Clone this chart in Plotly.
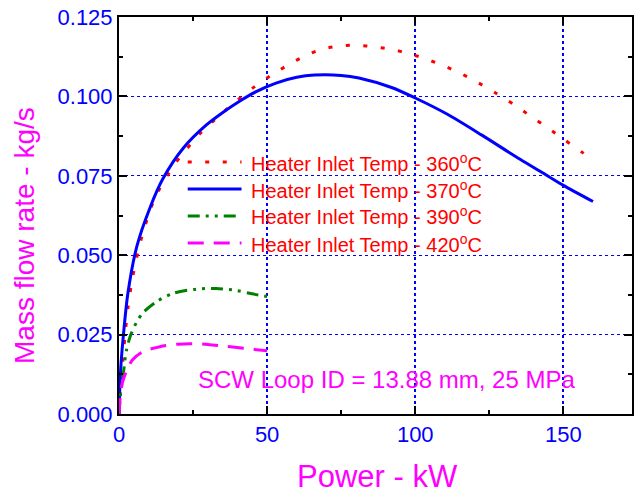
import plotly.graph_objects as go

# ---- data ----
power_360 = [0, 0.9, 2.0, 3.1, 4.5, 6.5, 8.7, 12.1, 18.3, 22.8, 27.8, 33.6, 39.6, 45.7, 51.1, 56.9,
             62.9, 68.7, 74.5, 80.4, 86.2, 92.0, 97.8, 103.8, 109.7, 115.4, 121.4, 127.1, 133.2,
             138.9, 144.7, 150.6, 156.5, 160]
flow_360 = [0, 0.0120, 0.0245, 0.0340, 0.0425, 0.0515, 0.0590, 0.0680, 0.0780, 0.0834, 0.0887,
            0.0937, 0.0985, 0.1030, 0.1065, 0.1098, 0.1128, 0.1149, 0.1159, 0.1161, 0.1156, 0.1148,
            0.1135, 0.1117, 0.1096, 0.1072, 0.1042, 0.1011, 0.0975, 0.0938, 0.0901, 0.0862, 0.0823,
            0.0800]

power_370 = [0, 0.3, 0.7, 1.5, 3, 6, 10.4, 14.9, 21.6, 29.5, 36.2, 40.7, 46.3, 53, 60, 66, 75, 81,
             92, 100, 111, 122.5, 134, 145, 150, 160]
flow_370 = [0, 0.009, 0.016, 0.025, 0.038, 0.0527, 0.0648, 0.0742, 0.0836, 0.0910, 0.0957, 0.0985,
            0.1015, 0.1042, 0.1060, 0.1067, 0.1066, 0.1058, 0.1028, 0.0995, 0.0943, 0.0878, 0.0810,
            0.0748, 0.0720, 0.0669]

power_390 = [0, 0.5, 1.5, 2.5, 4, 6, 8.2, 12.7, 18.3, 26, 32.8, 39.6, 44, 50]
flow_390 = [0, 0.006, 0.013, 0.020, 0.025, 0.029, 0.032, 0.0354, 0.038, 0.0393, 0.0395, 0.0389,
            0.038, 0.037]

power_420 = [0, 0.5, 1.2, 2.5, 4.5, 8, 13.8, 20, 25, 30, 36, 42, 50]
flow_420 = [0, 0.006, 0.010, 0.0135, 0.017, 0.0196, 0.0212, 0.0220, 0.0221, 0.0219, 0.0213,
            0.0207, 0.0199]

x_ticks = [0, 50, 100, 150]
x_minor = [25, 75, 125, 175]
y_ticks = [0, 0.025, 0.05, 0.075, 0.1, 0.125]
y_tick_text = ["0.000", "0.025", "0.050", "0.075", "0.100", "0.125"]
y_minor = [0.0125, 0.0375, 0.0625, 0.0875, 0.1125]

series_labels = ["Heater Inlet Temp - 360<sup>o</sup>C", "Heater Inlet Temp - 370<sup>o</sup>C",
                 "Heater Inlet Temp - 390<sup>o</sup>C", "Heater Inlet Temp - 420<sup>o</sup>C"]
x_title = "Power - kW"
y_title = "Mass flow rate - kg/s"
note_text = "SCW Loop ID = 13.88 mm, 25 MPa"

# ---- styles ----
styles = [
    dict(color="#ff0000", width=3, dash="4px,13.5px"),
    dict(color="#0000ff", width=3, dash="solid"),
    dict(color="#008000", width=3, dash="12px,6px,3px,6px,3px,6px"),
    dict(color="#ff00ff", width=3, dash="16px,10px"),
]
FONT = "Arial, Liberation Sans, sans-serif"
GRID = "#0000ff"

fig = go.Figure()
for xs, ys, st, lab in zip([power_360, power_370, power_390, power_420],
                           [flow_360, flow_370, flow_390, flow_420], styles, series_labels):
    fig.add_trace(go.Scatter(x=xs, y=ys, mode="lines", line=dict(shape="spline", smoothing=0.8, **st),
                             name=lab, showlegend=False))

W, H = 634, 495
L, R, T, B = 119, 0, 17, 81
pw, ph = W - L - R, H - T - B

def px_x(p):
    return (p - L) / pw

def px_y(p):
    return (H - B - p) / ph

fig.update_xaxes(
    range=[0, pw / (148.7 / 50)], tickmode="array", tickvals=x_ticks,
    ticktext=[str(v) for v in x_ticks],
    showline=True, linecolor="black", linewidth=2, mirror="ticks",
    ticks="inside", ticklen=8, tickwidth=1.5, tickcolor="black",
    showgrid=True, gridcolor=GRID, gridwidth=1.6, griddash="dot", zeroline=False,
    tickfont=dict(family=FONT, size=22, color="#0000ff"),
    minor=dict(tickvals=x_minor, ticks="inside", ticklen=4, tickcolor="black",
               tickwidth=1.5, showgrid=False, gridcolor=GRID),
)
fig.update_yaxes(
    range=[0, 0.125], tickmode="array", tickvals=y_ticks, ticktext=y_tick_text,
    showline=True, linecolor="black", linewidth=2, mirror="ticks",
    ticks="inside", ticklen=8, tickwidth=1.5, tickcolor="black",
    showgrid=True, gridcolor=GRID, gridwidth=1, griddash="dot", zeroline=False,
    tickfont=dict(family=FONT, size=22, color="#0000ff"),
    minor=dict(tickvals=y_minor, ticks="inside", ticklen=4, tickcolor="black",
               tickwidth=1.5, showgrid=False, gridcolor=GRID),
)

annotations = [
    dict(text=x_title, xref="paper", yref="paper", x=px_x(379), y=px_y(476), xanchor="center",
         yanchor="middle", showarrow=False, font=dict(family=FONT, size=31, color="#ff00ff")),
    dict(text=y_title, xref="paper", yref="paper", x=px_x(23.6), y=px_y(235), xanchor="center",
         yanchor="middle", textangle=-90, showarrow=False,
         font=dict(family=FONT, size=28, color="#ff00ff")),
    dict(text=note_text, xref="paper", yref="paper", x=px_x(196), y=px_y(379.7), xanchor="left",
         yanchor="middle", showarrow=False, font=dict(family=FONT, size=24, color="#ff00ff")),
]
shapes = []
rows = [162, 189, 216, 243]
for lab, st, ry in zip(series_labels, styles, rows):
    shapes.append(dict(type="line", xref="paper", yref="paper", x0=px_x(188), x1=px_x(242),
                       y0=px_y(ry), y1=px_y(ry), line=dict(color=st["color"], width=st["width"],
                                                           dash=st["dash"])))
    annotations.append(dict(text=lab, xref="paper", yref="paper", x=px_x(250), y=px_y(ry),
                            xanchor="left", yanchor="middle", showarrow=False,
                            font=dict(family=FONT, size=20, color="#ff0000")))

fig.update_layout(width=W, height=H, margin=dict(l=L, r=R, t=T, b=B, pad=0),
                  paper_bgcolor="white", plot_bgcolor="white",
                  annotations=annotations, shapes=shapes, showlegend=False)

fig.write_html("out.html")
